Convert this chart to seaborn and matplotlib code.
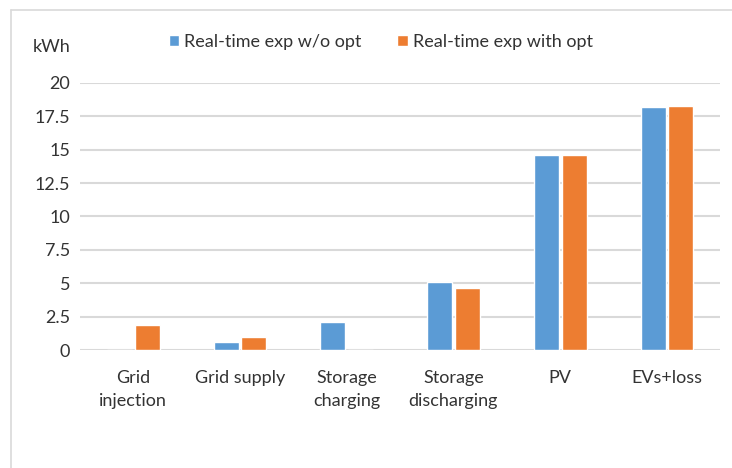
import numpy as np
import pandas as pd
import seaborn as sns
import matplotlib.pyplot as plt
from matplotlib.lines import Line2D

categories = ['Grid\ninjection', 'Grid supply', 'Storage\ncharging',
              'Storage\ndischarging', 'PV', 'EVs+loss']
without_opt = [0.0, 0.58, 2.1, 5.07, 14.6, 18.18]
with_opt = [1.9, 0.95, 0.0, 4.67, 14.6, 18.25]
series = ['Real-time exp w/o opt', 'Real-time exp with opt']
y_ticks = [0, 2.5, 5, 7.5, 10, 12.5, 15, 17.5, 20]
y_tick_labels = ['0', '2.5', '5', '7.5', '10', '12.5', '15', '17.5', '20']

df = pd.DataFrame({
    'category': categories * 2,
    'kwh': without_opt + with_opt,
    'series': [series[0]] * len(categories) + [series[1]] * len(categories),
})

sns.set_style('white')
plt.rcParams['font.family'] = ['Lato', 'DejaVu Sans']

fig = plt.figure(figsize=(7.32, 4.68), dpi=100)
ax = fig.add_axes([0.109, 0.252, 0.875, 0.571])

sns.barplot(
    data=df, x='category', y='kwh', hue='series',
    order=categories, hue_order=series,
    palette=['#5B9BD5', '#ED7D31'],
    width=0.52, gap=0.1, saturation=1, ax=ax,
)

ax.set_ylim(0, 20)
ax.set_yticks(y_ticks)
ax.set_yticklabels(y_tick_labels)
ax.yaxis.grid(True, color='#d9d9d9', linewidth=1.5)
ax.set_axisbelow(True)
for s in ax.spines.values():
    s.set_visible(False)
ax.tick_params(axis='both', length=0, labelsize=13, labelcolor='#333333')
ax.tick_params(axis='x', pad=14)
ax.tick_params(axis='y', pad=7)
for lbl in ax.get_xticklabels():
    lbl.set_linespacing(1.55)
ax.set_xlabel('')
ax.set_ylabel('')

fig.text(0.071, 0.9, 'kWh', fontsize=13, color='#333333', ha='center', va='center')

handles, labels = ax.get_legend_handles_labels()
ax.legend(handles, labels, loc='center', bbox_to_anchor=(0.52, 0.91),
          bbox_transform=fig.transFigure, ncol=2, frameon=False,
          fontsize=13, handlelength=0.6, handleheight=0.6,
          handletextpad=0.25, columnspacing=2.0, labelcolor='#333333')

# only the top and left edges of the chart frame are visible
fig.add_artist(Line2D([0.015, 1.0], [0.979, 0.979], color='#d9d9d9', linewidth=1.2,
                      transform=fig.transFigure))
fig.add_artist(Line2D([0.015, 0.015], [0.0, 0.979], color='#d9d9d9', linewidth=1.2,
                      transform=fig.transFigure))

fig.savefig('out.png', dpi=100)
